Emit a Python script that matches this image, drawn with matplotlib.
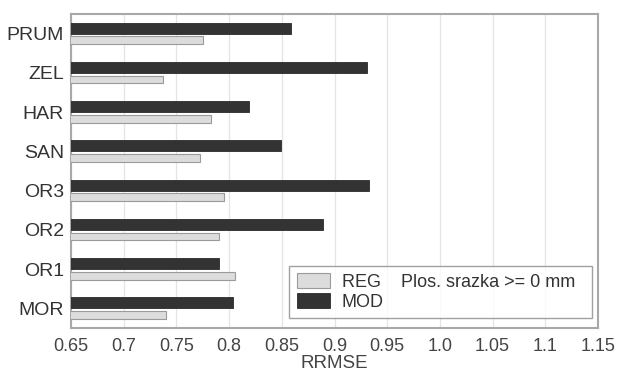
# RRMSE bar chart: REG vs MOD per station
import numpy as np
import matplotlib.pyplot as plt

# Data
stations = ['PRUM', 'ZEL', 'HAR', 'SAN', 'OR3', 'OR2', 'OR1', 'MOR']
reg = [0.775, 0.737, 0.783, 0.772, 0.795, 0.790, 0.806, 0.740]
mod = [0.859, 0.931, 0.819, 0.849, 0.933, 0.889, 0.790, 0.804]
xticks = [0.65, 0.7, 0.75, 0.8, 0.85, 0.9, 0.95, 1.0, 1.05, 1.1, 1.15]
xticklabels = ['0.65', '0.7', '0.75', '0.8', '0.85', '0.9', '0.95', '1.0', '1.05', '1.1', '1.15']

plt.rcParams['font.family'] = ['Liberation Sans', 'DejaVu Sans']

fig = plt.figure(figsize=(6.23, 3.74), dpi=100)
ax = fig.add_axes([71 / 623, 46 / 374, 527 / 623, 314 / 374])

y = np.arange(len(stations))[::-1]

ax.barh(y + 0.14, mod, height=0.28, color='#333333', edgecolor='#2a2a2a',
        linewidth=0.6, label='MOD', zorder=3)
ax.barh(y - 0.17, reg, height=0.2, color='#dcdcdc', edgecolor='#9a9a9a',
        linewidth=0.8, label='REG    Plos. srazka >= 0 mm  ', zorder=3)

ax.set_xlim(0.65, 1.15)
ax.set_ylim(-0.5, 7.5)
ax.set_yticks(y)
ax.set_yticklabels(stations, fontsize=14, color='#333333')
ax.set_xticks(xticks)
ax.set_xticklabels(xticklabels, fontsize=13, color='#444444')
ax.tick_params(axis='both', length=0)
ax.tick_params(axis='x', pad=7)
ax.tick_params(axis='y', pad=5)
ax.set_xlabel('RRMSE', fontsize=13.5, color='#444444', labelpad=0)

ax.grid(axis='x', color='#e4e4e4', linewidth=0.9, zorder=0)
for s in ax.spines.values():
    s.set_color('#a8a8a8')
    s.set_linewidth(1.5)

# legend order: REG first, then MOD
h, l = ax.get_legend_handles_labels()
leg = ax.legend([h[1], h[0]], [l[1], l[0]], loc='lower right',
                bbox_to_anchor=(0.989, 0.032), borderaxespad=0,
                fontsize=13, fancybox=False, handlelength=1.85,
                handleheight=0.85, labelspacing=0.15, handletextpad=0.65,
                borderpad=0.4)
leg.get_frame().set_edgecolor('#8a8a8a')
leg.get_frame().set_linewidth(1.0)
for t in leg.get_texts():
    t.set_color('#333333')

fig.savefig('out.png', dpi=100)
